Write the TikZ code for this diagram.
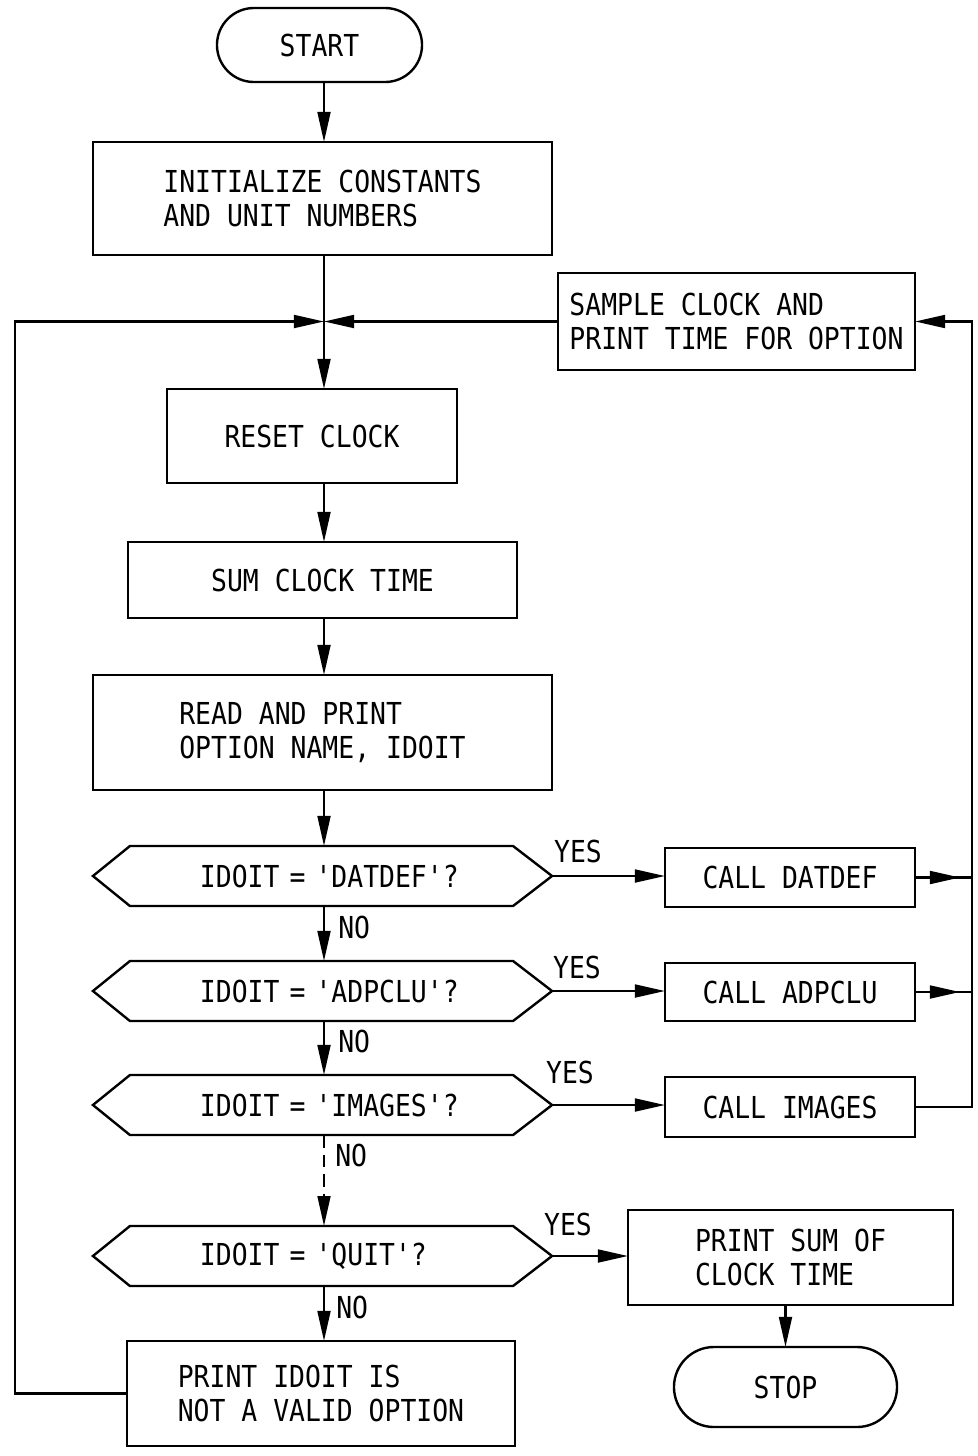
\documentclass[tikz,border=0pt]{standalone}
\usepackage{fontspec}
\usetikzlibrary{arrows.meta,shapes.misc,calc}
\newfontfamily\flowfont[FakeStretch=0.874]{DejaVu Sans Mono}
\hfuzz=\maxdimen
\hbadness=10000

% decision outline: pointed on both sides, drawn round a borderless node
\newcommand\hexoutline[1]{%
  \draw[line] (#1.west) -- ([xshift=0.925cm]#1.north west)
    -- ([xshift=-0.975cm]#1.north east) -- (#1.east)
    -- ([xshift=-0.975cm]#1.south east) -- ([xshift=0.925cm]#1.south west)
    -- cycle;}

\tikzset{
  line/.style={line width=1.7pt, line join=miter},
  arr/.style={line, -{Triangle[length=0.75cm,width=0.32cm]}},
  txt/.style={font=\flowfont\fontsize{21.5}{24.2}\selectfont},
  box/.style={txt, line, draw, rectangle, align=left, inner sep=0pt, outer sep=0pt},
  term/.style={txt, line, draw, rounded rectangle, inner sep=0pt, outer sep=0pt},
  dec/.style={txt, rectangle, inner xsep=2.675cm, inner ysep=0pt, outer sep=0pt,
              text width=6.125cm, align=left, minimum height=1.5cm},
  lbl/.style={txt, inner sep=0pt},
}

\begin{document}
\begin{tikzpicture}[x=0.025cm, y=-0.025cm]
\useasboundingbox (0,0) rectangle (978,1456);

% process boxes and terminals
\node[term, minimum width=5.125cm, minimum height=1.85cm] (start) at (319.5,45) {START};
\node[box, minimum width=11.475cm, minimum height=2.825cm] (init) at (322.5,198.5)
  {INITIALIZE CONSTANTS\\AND UNIT NUMBERS};
\node[box, minimum width=8.925cm, minimum height=2.425cm] (sample) at (736.5,321.5)
  {SAMPLE CLOCK AND\\PRINT TIME FOR OPTION};
\node[box, minimum width=7.25cm, minimum height=2.35cm] (reset) at (312,436) {RESET CLOCK};
\node[box, minimum width=9.725cm, minimum height=1.9cm] (sum) at (322.5,580) {SUM CLOCK TIME};
\node[box, minimum width=11.475cm, minimum height=2.875cm] (read) at (322.5,732.5)
  {READ AND PRINT\\OPTION NAME, IDOIT};

% decisions
\node[dec] (d1) at (322.5,876) {\mbox{IDOIT = 'DATDEF'?}};
\node[dec] (d2) at (322.5,991) {\mbox{IDOIT = 'ADPCLU'?}};
\node[dec] (d3) at (322.5,1105) {\mbox{IDOIT = 'IMAGES'?}};
\node[dec] (d4) at (322.5,1256) {\mbox{IDOIT = 'QUIT'?}};
\hexoutline{d1}
\hexoutline{d2}
\hexoutline{d3}
\hexoutline{d4}

% called routines
\node[box, minimum width=6.25cm, minimum height=1.475cm] (cdat) at (790,877.5) {CALL DATDEF};
\node[box, minimum width=6.25cm, minimum height=1.45cm] (cadp) at (790,992) {CALL ADPCLU};
\node[box, minimum width=6.25cm, minimum height=1.5cm] (cimg) at (790,1107) {CALL IMAGES};
\node[box, minimum width=8.125cm, minimum height=2.375cm] (psum) at (790.5,1257.5)
  {PRINT SUM OF\\CLOCK TIME};
\node[term, minimum width=5.575cm, minimum height=2.0cm] (stop) at (785.5,1387) {STOP};
\node[box, minimum width=9.7cm, minimum height=2.625cm] (pinv) at (321,1393.5)
  {PRINT IDOIT IS\\NOT A VALID OPTION};

% branch labels
\node[lbl] (y1) at (578,851) {YES};
\node[lbl] (y2) at (577,967) {YES};
\node[lbl] (y3) at (570,1072) {YES};
\node[lbl] (y4) at (568,1224) {YES};
\node[lbl, anchor=west] (n1) at (338,927) {NO};
\node[lbl, anchor=west] (n2) at (338,1041) {NO};
\node[lbl, anchor=west] (n3) at (335,1155) {NO};
\node[lbl, anchor=west] (n4) at (336,1307) {NO};

% junction points of the loops
\coordinate (j) at (324,321.5);
\coordinate (lc) at (15,321.5);
\coordinate (rc) at (972,321.5);
\coordinate (r1) at (cdat.east -| rc);
\coordinate (r2) at (cadp.east -| rc);
\coordinate (r3) at (cimg.east -| rc);

% main flow
\draw[arr] (start.south -| j) -- (init.north -| j);
\draw[line] (init.south -| j) -- (j);
\draw[arr] (j) -- (reset.north -| j);
\draw[arr] (reset.south -| j) -- (sum.north -| j);
\draw[arr] (sum.south -| j) -- (read.north -| j);
\draw[arr] (read.south -| j) -- (d1.north -| j);
\draw[arr] (d1.south -| j) -- (d2.north -| j);
\draw[arr] (d2.south -| j) -- (d3.north -| j);
\draw[arr, dash pattern=on 9pt off 5pt] (d3.south -| j) -- (d4.north -| j);
\draw[arr] (d4.south -| j) -- (pinv.north -| j);

% yes branches
\draw[arr] (d1.east) -- (d1.east -| cdat.west);
\draw[arr] (d2.east) -- (d2.east -| cadp.west);
\draw[arr] (d3.east) -- (d3.east -| cimg.west);
\draw[arr] (d4.east) -- (d4.east -| psum.west);
\draw[arr] (psum.south -| stop.north) -- (stop.north);

% return from the called routines
\draw[line] (cdat.east) -- (r1);
\draw[arr] (cdat.east) -- ([xshift=-0.3cm]r1);
\draw[line] (cadp.east) -- (r2);
\draw[arr] (cadp.east) -- ([xshift=-0.3cm]r2);
\draw[arr] (cimg.east) -- (r3) -- (rc) -- (sample.east);
\draw[arr] (sample.west) -- (j);

% invalid option loops back
\draw[arr] (pinv.west) -| (lc) -- (j);
\end{tikzpicture}
\end{document}
